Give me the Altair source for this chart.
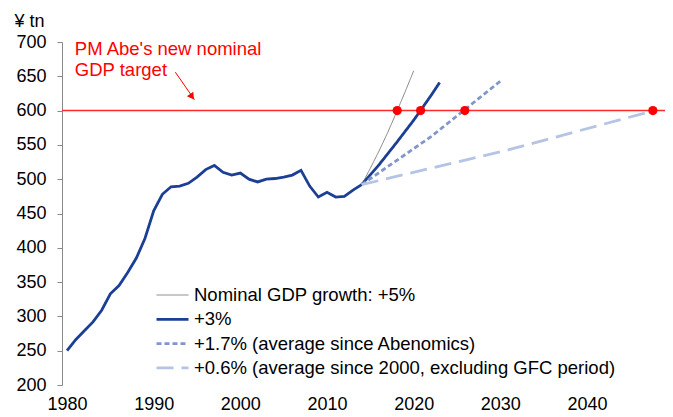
import altair as alt
import pandas as pd

FONT = "Liberation Sans"

# Historical nominal GDP (¥ tn)
hist_years = list(range(1980, 2015))
hist_values = [250, 266, 279, 292, 309, 333, 345, 364, 385, 414,
               454, 478, 489, 490, 494, 503, 514, 520, 510, 506,
               509, 500, 496, 500, 501, 503, 506, 513, 490, 474,
               481, 474, 475, 484, 492]

# Projections
series_names = ["Nominal GDP growth: +5%", "+3%",
                "+1.7% (average since Abenomics)",
                "+0.6% (average since 2000, excluding GFC period)"]
p5_years = [2014, 2015, 2016, 2017, 2018, 2019, 2020]
p5_values = [492, 516, 541, 568, 597, 627, 658]
p3_years = [2014, 2016, 2018, 2020, 2022, 2023]
p3_values = [492, 521, 553, 586, 622, 641]
p17_years = [2014, 2022, 2030]
p17_values = [492, 562, 643]
p06_years = [2014, 2031, 2048]
p06_values = [492, 543, 601]

# Target and crossing points
target = 600
cross_years = [2018.1, 2020.8, 2025.9, 2047.6]
cross_values = [600, 600, 600, 600]

# Annotation
note_lines = ["PM Abe's new nominal", "GDP target"]
note_x = [1980.9, 1980.9]
note_y = [680.5, 650.0]
arrow_x = [1992.5, 1994.7]
arrow_y = [656, 616]
arrow_head = (1994.35, 621.5)

hist_df = pd.DataFrame({"year": hist_years, "value": hist_values})
rows = []
for name, ys, vs in zip(series_names,
                        [p5_years, p3_years, p17_years, p06_years],
                        [p5_values, p3_values, p17_values, p06_values]):
    for y, v in zip(ys, vs):
        rows.append({"year": y, "value": v, "series": name})
proj_df = pd.DataFrame(rows)
cross_df = pd.DataFrame({"year": cross_years, "value": cross_values})
note_df = pd.DataFrame({"year": note_x, "value": note_y, "text": note_lines})
arrow_df = pd.DataFrame({"year": arrow_x, "value": arrow_y})
head_df = pd.DataFrame({"year": [arrow_head[0]], "value": [arrow_head[1]]})

xscale = alt.Scale(domain=[1979.42, 2049.0], nice=False, zero=False)
yscale = alt.Scale(domain=[200, 700], nice=False, zero=False)

xaxis = alt.Axis(values=[1980, 1990, 2000, 2010, 2020, 2030, 2040],
                 format="d", title=None, domain=False, ticks=False,
                 grid=False, labelFontSize=18, labelColor="#000",
                 labelPadding=10, labelFont=FONT, labelOverlap=False)
yaxis = alt.Axis(values=list(range(200, 701, 50)), title="¥ tn",
                 titleAngle=0, titleX=-48, titleY=-16,
                 titleAlign="left", titleBaseline="alphabetic",
                 titleFontWeight="normal", titleFontSize=18,
                 titleFont=FONT, titleColor="#000",
                 grid=False, domainColor="#898989",
                 tickColor="#898989", tickSize=5,
                 labelFontSize=18, labelColor="#000",
                 labelPadding=11, labelFont=FONT,
                 labelOverlap=False)


def X():
    return alt.X("year:Q", scale=xscale, axis=xaxis)


def Y():
    return alt.Y("value:Q", scale=yscale, axis=yaxis)


hist_line = alt.Chart(hist_df).mark_line(
    color="#1c3f96", strokeWidth=2.8).encode(x=X(), y=Y())

target_rule = alt.Chart(pd.DataFrame({"value": [target]})).mark_rule(
    color="#ff2a2a", strokeWidth=1.5).encode(y=Y())

leg = alt.Legend(title=None, orient="none", legendX=93, legendY=244,
                 symbolType="stroke", symbolSize=1024, labelFontSize=18.5,
                 labelFont=FONT, labelColor="#000", labelLimit=600,
                 clipHeight=18, rowPadding=5.3, labelOffset=4, padding=0)

proj_line = alt.Chart(proj_df).mark_line().encode(
    x=X(), y=Y(),
    color=alt.Color("series:N",
                    scale=alt.Scale(domain=series_names,
                                    range=["#808080", "#1c3f96", "#8296cb", "#b5c4e4"]),
                    sort=series_names, legend=leg),
    strokeDash=alt.StrokeDash("series:N",
                              scale=alt.Scale(domain=series_names,
                                              range=[[1, 0], [1, 0], [5, 3], [17, 8]]),
                              sort=series_names, legend=leg),
    strokeWidth=alt.StrokeWidth("series:N",
                                scale=alt.Scale(type="ordinal", domain=series_names,
                                                range=[1, 2.8, 2.8, 2.8]),
                                sort=series_names, legend=leg),
    order="year:Q",
)

dots = alt.Chart(cross_df).mark_circle(color="#ff0000", opacity=1, size=85).encode(
    x=X(), y=Y())

note = alt.Chart(note_df).mark_text(
    color="#ff0000", fontSize=18.5, font=FONT, align="left",
    baseline="alphabetic").encode(x=X(), y=Y(), text="text:N")

arrow = alt.Chart(arrow_df).mark_line(color="#ff0000", strokeWidth=1).encode(
    x=X(), y=Y())

head = alt.Chart(head_df).mark_point(
    shape="triangle", filled=True, color="#ff0000", opacity=1, size=60,
    angle=145).encode(x=X(), y=Y())

chart = alt.layer(hist_line, target_rule, proj_line, dots, note, arrow, head).properties(
    width=603, height=343,
    autosize=alt.AutoSizeParams(type="none"),
    padding={"left": 54, "top": 34, "right": 0, "bottom": 30},
).configure_view(stroke=None)

chart.save("out.html", embed_options={"renderer": "svg", "actions": False})
